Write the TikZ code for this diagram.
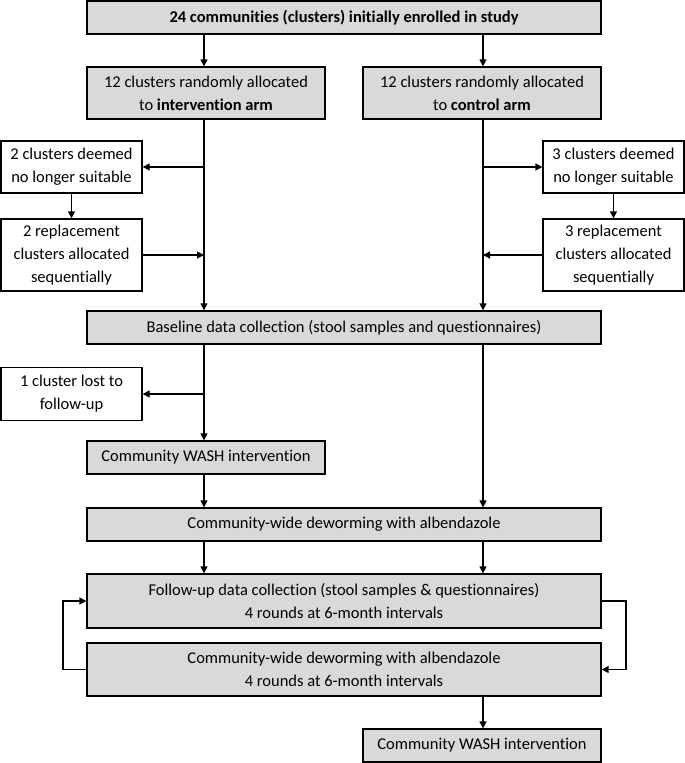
\documentclass[tikz,border=0pt]{standalone}
\usepackage{fontspec}
\setmainfont{Carlito}[Ligatures={NoCommon}]
\usetikzlibrary{arrows.meta}
\definecolor{boxgray}{HTML}{D9D9D9}
\begin{document}
\begin{tikzpicture}[x=1pt,y=-1pt,
  base/.style={draw=black, line width=1.3pt, rectangle, align=center, inner sep=0pt,
    font=\fontsize{16.5}{23}\selectfont},
  gbox/.style={base, fill=boxgray},
  wbox/.style={base, fill=white},
  arr/.style={draw=black, line width=1.3pt, -{Triangle[length=7pt,width=7pt]}},
  ln/.style={draw=black, line width=1.3pt}]
\useasboundingbox (0,0) rectangle (685,763);
\coordinate (xl) at (204,0);
\coordinate (xr) at (483,0);
\coordinate (ll) at (63,0);
\coordinate (rr) at (626,0);

\node[gbox, minimum width=514pt, minimum height=33pt] (top) at (344,17.5) {\textbf{24 communities (clusters) initially enrolled in study}};
\node[gbox, minimum width=238pt, minimum height=52pt] (armL) at (206,93) {12 clusters randomly allocated\\to \textbf{intervention arm}};
\node[gbox, minimum width=238pt, minimum height=52pt] (armR) at (482,93) {12 clusters randomly allocated\\to \textbf{control arm}};

\node[wbox, minimum width=141pt, minimum height=52pt] (deemL) at (71.5,167) {2 clusters deemed\\no longer suitable};
\node[wbox, minimum width=141pt, minimum height=72pt] (replL) at (71.5,255) {2 replacement\\clusters allocated\\sequentially};
\node[wbox, minimum width=141pt, minimum height=52pt] (deemR) at (613.5,167) {3 clusters deemed\\no longer suitable};
\node[wbox, minimum width=141pt, minimum height=72pt] (replR) at (613.5,255) {3 replacement\\clusters allocated\\sequentially};

\node[gbox, minimum width=514pt, minimum height=33pt] (bl) at (344,327.5) {Baseline data collection (stool samples and questionnaires)};
\node[wbox, minimum width=141pt, minimum height=53pt] (lost) at (71.5,394) {1 cluster lost to\\follow-up};
\node[gbox, minimum width=238pt, minimum height=33pt] (wash) at (206,457.5) {Community WASH intervention};
\node[gbox, minimum width=514pt, minimum height=33pt] (dw) at (344,524.5) {Community-wide deworming with albendazole};
\node[gbox, minimum width=514pt, minimum height=54pt] (fu) at (344,601) {Follow-up data collection (stool samples \& questionnaires)\\4 rounds at 6-month intervals};
\node[gbox, minimum width=514pt, minimum height=53pt] (dw4) at (344,669.5) {Community-wide deworming with albendazole\\4 rounds at 6-month intervals};
\node[gbox, minimum width=238pt, minimum height=33pt] (fin) at (482,745.5) {Community WASH intervention};

\draw[arr] (top.south -| xl) -- (armL.north -| xl);
\draw[arr] (top.south -| xr) -- (armR.north -| xr);
\draw[arr] (armL.south -| xl) -- (bl.north -| xl);
\draw[arr] (armR.south -| xr) -- (bl.north -| xr);
\draw[arr] (deemL.east -| xl) -- (deemL.east);
\draw[arr] (deemL) -- (replL);
\draw[arr] (replL.east) -- (replL.east -| xl);
\draw[arr] (deemR.west -| xr) -- (deemR.west);
\draw[arr] (deemR) -- (replR);
\draw[arr] (replR.west) -- (replR.west -| xr);
\draw[arr] (bl.south -| xl) -- (wash.north -| xl);
\draw[arr] (lost.east -| xl) -- (lost.east);
\draw[arr] (bl.south -| xr) -- (dw.north -| xr);
\draw[arr] (wash.south -| xl) -- (dw.north -| xl);
\draw[arr] (dw.south -| xl) -- (fu.north -| xl);
\draw[arr] (dw.south -| xr) -- (fu.north -| xr);
\draw[arr] (dw4.west) -- (dw4.west -| ll) |- (fu.west);
\draw[arr] (fu.east) -- (fu.east -| rr) |- (dw4.east);
\draw[arr] (dw4.south -| xr) -- (fin.north -| xr);
\end{tikzpicture}
\end{document}
